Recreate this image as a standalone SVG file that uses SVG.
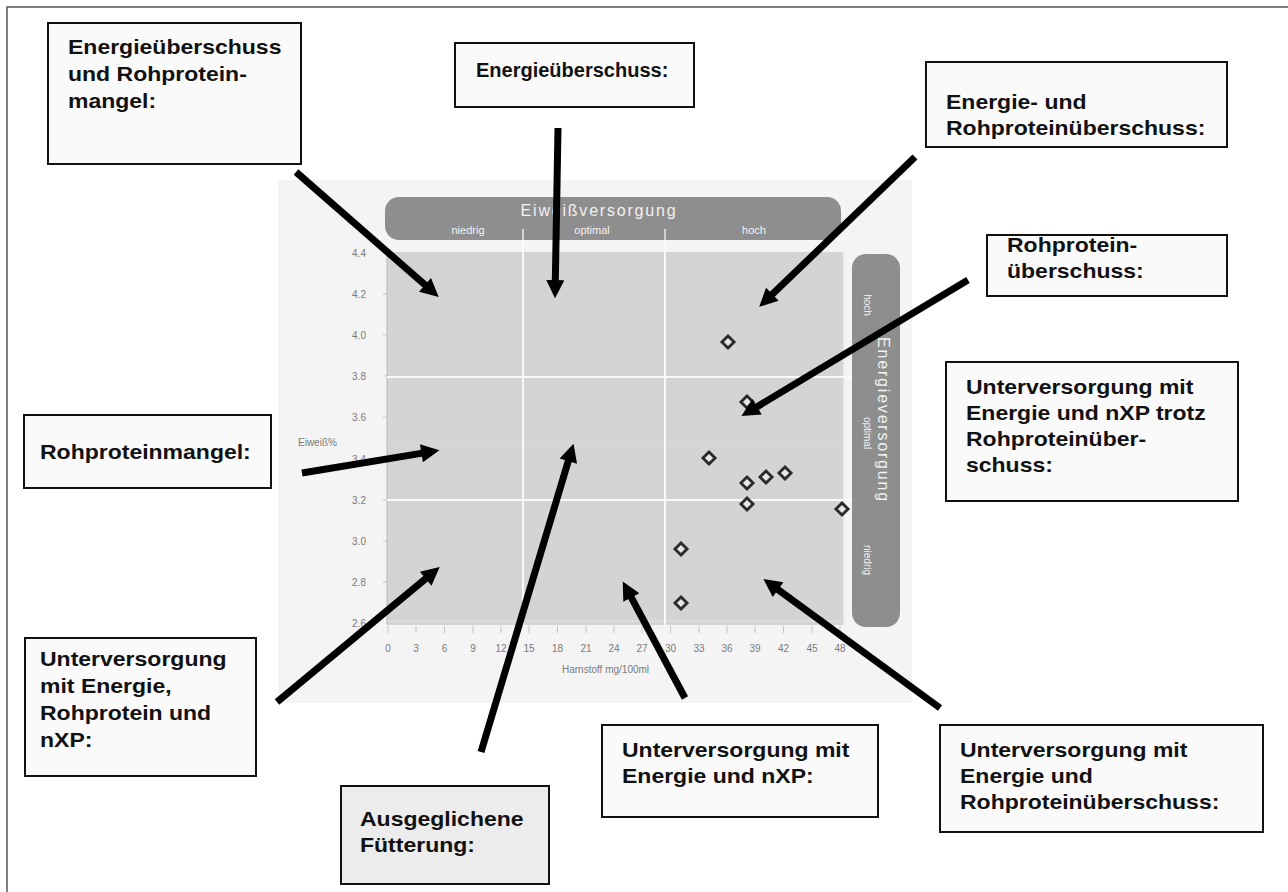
<svg xmlns="http://www.w3.org/2000/svg" width="1288" height="892" viewBox="0 0 1288 892">
<style>
.box{fill:#fafafa;stroke:#111;stroke-width:2}
.lbl{font-family:"Liberation Sans",Arial,sans-serif;font-weight:bold;font-size:20px;fill:#111}
.ax{font-family:"Liberation Sans",Arial,sans-serif;font-size:10px;fill:#7a7a7a}
.hd{font-family:"Liberation Sans",Arial,sans-serif;fill:#f2f2f2}
.arr{stroke:#000;stroke-width:7;fill:none;marker-end:url(#ah)}
.dot{fill:#e6e6e6;stroke:#2a2a2a;stroke-width:2.8}
.tk{stroke:#c4c4c4;stroke-width:1}
</style>
<defs>
<marker id="ah" viewBox="0 0 10 10" refX="4" refY="5" markerWidth="3" markerHeight="2.6" orient="auto" markerUnits="strokeWidth">
<path d="M0,0 L10,5 L0,10 z" fill="#000"/>
</marker>
</defs>
<rect width="1288" height="892" fill="#fff"/>
<path d="M7,892 V7 H1288" fill="none" stroke="#555" stroke-width="1.5"/>

<g id="chart">
<rect x="278" y="180" width="634" height="523" fill="#f4f4f4"/>
<rect x="387" y="252" width="456" height="373" fill="#d4d4d4"/>
<line x1="387" y1="252" x2="387" y2="625" stroke="#b8b8b8" stroke-width="1"/>
<line x1="387" y1="446" x2="843" y2="446" stroke="#dedede" stroke-width="1" stroke-dasharray="2,2"/>
<line x1="387" y1="621" x2="843" y2="621" stroke="#e2e2e2" stroke-width="1"/>
<line x1="844" y1="252" x2="844" y2="625" stroke="#ececec" stroke-width="2"/>
<g stroke="#fafafa" stroke-width="2">
<line x1="523" y1="236" x2="523" y2="625"/>
<line x1="665" y1="236" x2="665" y2="625"/>
<line x1="387" y1="377" x2="857" y2="377"/>
<line x1="387" y1="500" x2="857" y2="500"/>
</g>
<rect x="385" y="197" width="456" height="43" rx="14" fill="#8e8e8e"/>
<g stroke="#e8e8e8" stroke-width="1.5">
<line x1="523" y1="229" x2="523" y2="240"/>
<line x1="665" y1="229" x2="665" y2="240"/>
</g>
<text class="hd" x="599" y="216" font-size="16" letter-spacing="1.8" text-anchor="middle">Eiweißversorgung</text>
<text class="hd" x="468" y="234" font-size="11" text-anchor="middle">niedrig</text>
<text class="hd" x="592" y="234" font-size="11" text-anchor="middle">optimal</text>
<text class="hd" x="754" y="234" font-size="11" text-anchor="middle">hoch</text>
<rect x="852" y="254" width="48" height="373" rx="14" fill="#8e8e8e"/>
<text class="hd" transform="translate(878,420) rotate(90)" font-size="16" letter-spacing="1.8" text-anchor="middle">Energieversorgung</text>
<text class="hd" transform="translate(864,305) rotate(90)" font-size="10" text-anchor="middle">hoch</text>
<text class="hd" transform="translate(864,433) rotate(90)" font-size="10" text-anchor="middle">optimal</text>
<text class="hd" transform="translate(864,560) rotate(90)" font-size="10" text-anchor="middle">niedrig</text>
<g class="ax" text-anchor="middle">
<text x="359" y="257">4.4</text>
<text x="359" y="298">4.2</text>
<text x="359" y="339">4.0</text>
<text x="359" y="380">3.8</text>
<text x="359" y="421">3.6</text>
<text x="359" y="463">3.4</text>
<text x="359" y="504">3.2</text>
<text x="359" y="545">3.0</text>
<text x="359" y="586">2.8</text>
<text x="359" y="627">2.6</text>
</g>
<g class="tk">
<line x1="383" y1="253" x2="387" y2="253"/><line x1="383" y1="294" x2="387" y2="294"/><line x1="383" y1="335" x2="387" y2="335"/><line x1="383" y1="376" x2="387" y2="376"/><line x1="383" y1="417" x2="387" y2="417"/><line x1="383" y1="459" x2="387" y2="459"/><line x1="383" y1="500" x2="387" y2="500"/><line x1="383" y1="541" x2="387" y2="541"/><line x1="383" y1="582" x2="387" y2="582"/>
<line x1="388" y1="626" x2="388" y2="633"/><line x1="416" y1="626" x2="416" y2="633"/><line x1="444.5" y1="626" x2="444.5" y2="633"/><line x1="473" y1="626" x2="473" y2="633"/><line x1="501" y1="626" x2="501" y2="633"/><line x1="529" y1="626" x2="529" y2="633"/><line x1="557.5" y1="626" x2="557.5" y2="633"/><line x1="586" y1="626" x2="586" y2="633"/><line x1="614" y1="626" x2="614" y2="633"/><line x1="642" y1="626" x2="642" y2="633"/><line x1="670.5" y1="626" x2="670.5" y2="633"/><line x1="699" y1="626" x2="699" y2="633"/><line x1="727" y1="626" x2="727" y2="633"/><line x1="755" y1="626" x2="755" y2="633"/><line x1="783.5" y1="626" x2="783.5" y2="633"/><line x1="812" y1="626" x2="812" y2="633"/><line x1="840" y1="626" x2="840" y2="633"/>
</g>
<g class="ax" text-anchor="middle">
<text x="388" y="652">0</text><text x="416" y="652">3</text><text x="444.5" y="652">6</text><text x="473" y="652">9</text><text x="501" y="652">12</text><text x="529" y="652">15</text><text x="557.5" y="652">18</text><text x="586" y="652">21</text><text x="614" y="652">24</text><text x="642" y="652">27</text><text x="670.5" y="652">30</text><text x="699" y="652">33</text><text x="727" y="652">36</text><text x="755" y="652">39</text><text x="783.5" y="652">42</text><text x="812" y="652">45</text><text x="840" y="652">48</text>
</g>
<text class="ax" x="562" y="673" font-size="11">Harnstoff mg/100ml</text>
<text class="ax" x="298" y="446">Eiweiß%</text>
<g id="points">
<rect class="dot" x="-4.3" y="-4.3" width="8.6" height="8.6" transform="translate(728,342) rotate(45)"/>
<rect class="dot" x="-4.3" y="-4.3" width="8.6" height="8.6" transform="translate(747,402) rotate(45)"/>
<rect class="dot" x="-4.3" y="-4.3" width="8.6" height="8.6" transform="translate(709,458) rotate(45)"/>
<rect class="dot" x="-4.3" y="-4.3" width="8.6" height="8.6" transform="translate(747,483) rotate(45)"/>
<rect class="dot" x="-4.3" y="-4.3" width="8.6" height="8.6" transform="translate(766,477) rotate(45)"/>
<rect class="dot" x="-4.3" y="-4.3" width="8.6" height="8.6" transform="translate(785,473) rotate(45)"/>
<rect class="dot" x="-4.3" y="-4.3" width="8.6" height="8.6" transform="translate(747,504) rotate(45)"/>
<rect class="dot" x="-4.3" y="-4.3" width="8.6" height="8.6" transform="translate(842,509) rotate(45)"/>
<rect class="dot" x="-4.3" y="-4.3" width="8.6" height="8.6" transform="translate(681,549) rotate(45)"/>
<rect class="dot" x="-4.3" y="-4.3" width="8.6" height="8.6" transform="translate(681,603) rotate(45)"/>
</g>
</g>

<g id="box-energieueberschuss-rohproteinmangel">
<rect class="box" x="48" y="23" width="253" height="141"/>
<text class="lbl" transform="translate(68,54) scale(1.15,1)"><tspan x="0" y="0">Energieüberschuss</tspan><tspan x="0" y="27">und Rohprotein-</tspan><tspan x="0" y="54">mangel:</tspan></text>
</g>
<g id="box-energieueberschuss">
<rect class="box" x="455" y="43" width="239" height="64"/>
<text class="lbl" transform="translate(476,77)">Energieüberschuss:</text>
</g>
<g id="box-energie-rohproteinueberschuss">
<rect class="box" x="926" y="62" width="301" height="85"/>
<text class="lbl" transform="translate(946,109) scale(1.15,1)"><tspan x="0" y="0">Energie- und</tspan><tspan x="0" y="26">Rohproteinüberschuss:</tspan></text>
</g>
<g id="box-rohproteinueberschuss">
<rect class="box" x="987" y="235" width="240" height="61"/>
<text class="lbl" transform="translate(1007,252) scale(1.15,1)"><tspan x="0" y="0">Rohprotein-</tspan><tspan x="0" y="26">überschuss:</tspan></text>
</g>
<g id="box-unterversorgung-trotz">
<rect class="box" x="946" y="362" width="292" height="139"/>
<text class="lbl" transform="translate(966,394) scale(1.15,1)"><tspan x="0" y="0">Unterversorgung mit</tspan><tspan x="0" y="26">Energie und nXP trotz</tspan><tspan x="0" y="52">Rohproteinüber-</tspan><tspan x="0" y="78">schuss:</tspan></text>
</g>
<g id="box-rohproteinmangel">
<rect class="box" x="24" y="415" width="247" height="73"/>
<text class="lbl" transform="translate(40,459) scale(1.15,1)">Rohproteinmangel:</text>
</g>
<g id="box-unterversorgung-alle">
<rect class="box" x="25" y="638" width="231" height="138"/>
<text class="lbl" transform="translate(40,666) scale(1.15,1)"><tspan x="0" y="0">Unterversorgung</tspan><tspan x="0" y="27">mit Energie,</tspan><tspan x="0" y="54">Rohprotein und</tspan><tspan x="0" y="81">nXP:</tspan></text>
</g>
<g id="box-ausgeglichen">
<rect class="box" x="341" y="786" width="208" height="98" style="fill:#ececec"/>
<text class="lbl" transform="translate(360,826) scale(1.15,1)"><tspan x="0" y="0">Ausgeglichene</tspan><tspan x="0" y="26">Fütterung:</tspan></text>
</g>
<g id="box-unterversorgung-nxp">
<rect class="box" x="602" y="725" width="276" height="92"/>
<text class="lbl" transform="translate(622,757) scale(1.15,1)"><tspan x="0" y="0">Unterversorgung mit</tspan><tspan x="0" y="26">Energie und nXP:</tspan></text>
</g>
<g id="box-unterversorgung-rohproteinueberschuss">
<rect class="box" x="940" y="725" width="323" height="107"/>
<text class="lbl" transform="translate(960,757) scale(1.15,1)"><tspan x="0" y="0">Unterversorgung mit</tspan><tspan x="0" y="26">Energie und</tspan><tspan x="0" y="52">Rohproteinüberschuss:</tspan></text>
</g>

<g id="connectors">
<line class="arr" x1="296" y1="172" x2="430.5" y2="289.7"/>
<line class="arr" x1="558" y1="128" x2="555.2" y2="287.4"/>
<line class="arr" x1="915" y1="157" x2="767.1" y2="299.3"/>
<line class="arr" x1="968" y1="280" x2="750.8" y2="410.5"/>
<line class="arr" x1="302" y1="473" x2="428.6" y2="452.1"/>
<line class="arr" x1="277" y1="702" x2="431.3" y2="574"/>
<line class="arr" x1="481" y1="752" x2="570.4" y2="454.1"/>
<line class="arr" x1="685" y1="698" x2="627.9" y2="591.1"/>
<line class="arr" x1="940" y1="708" x2="772.2" y2="585.4"/>
</g>
</svg>
